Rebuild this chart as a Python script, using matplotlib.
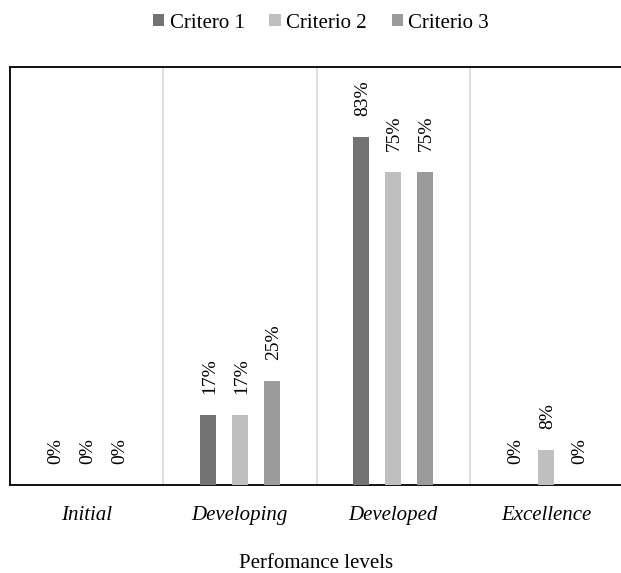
import matplotlib
matplotlib.use("Agg")
import matplotlib.pyplot as plt
from matplotlib.patches import Patch
import numpy as np

levels = ["Initial", "Developing", "Developed", "Excellence"]
series_names = ["Critero 1", "Criterio 2", "Criterio 3"]
criterio_1 = [0.0, 0.1667, 0.8333, 0.0]
criterio_2 = [0.0, 0.1667, 0.75, 0.0833]
criterio_3 = [0.0, 0.25, 0.75, 0.0]
colors = ["#737373", "#bfbfbf", "#9b9b9b"]

plt.rcParams["font.family"] = ["Liberation Serif", "DejaVu Serif"]

W, H = 621, 573
fig = plt.figure(figsize=(W / 100, H / 100), dpi=100)
ax = fig.add_axes([10 / W, (H - 485) / H, 613 / W, 418 / H])

x = np.arange(len(levels))
bar_w = 0.104
step = 0.209
for i, (vals, name, c) in enumerate(zip([criterio_1, criterio_2, criterio_3], series_names, colors)):
    pos = x + (i - 1) * step
    ax.bar(pos, vals, width=bar_w, color=c, label=name, zorder=3)
    for px, v in zip(pos, vals):
        ax.annotate(f"{v * 100:.0f}%", (px, v), xytext=(1, 15), textcoords="offset points",
                    rotation=90, ha="center", va="bottom", fontsize=14)

ax.set_xlim(-0.5, 3.5)
ax.set_ylim(0, 1.0)
ax.set_xticks(x)
ax.set_xticklabels(levels, fontstyle="italic", fontsize=15)
ax.set_xticks([0.5, 1.5, 2.5], minor=True)
ax.tick_params(axis="x", which="both", length=0, pad=15)
ax.set_yticks([])
ax.grid(which="minor", axis="x", color="#d9d9d9", linewidth=1.2, zorder=0)

for s in ["left", "top", "bottom"]:
    ax.spines[s].set_linewidth(1.3)
    ax.spines[s].set_color("black")
ax.spines["right"].set_visible(False)

ax.set_xlabel("Perfomance levels", fontsize=15, labelpad=21)

handles = [Patch(facecolor=c, edgecolor="none") for c in colors]
fig.legend(handles, series_names, loc="center", bbox_to_anchor=(321 / W, 1 - 23 / H),
           ncol=3, frameon=False, fontsize=15, handlelength=0.55, handleheight=0.55,
           handletextpad=0.25, columnspacing=1.2)

fig.savefig("out.png", dpi=100)
